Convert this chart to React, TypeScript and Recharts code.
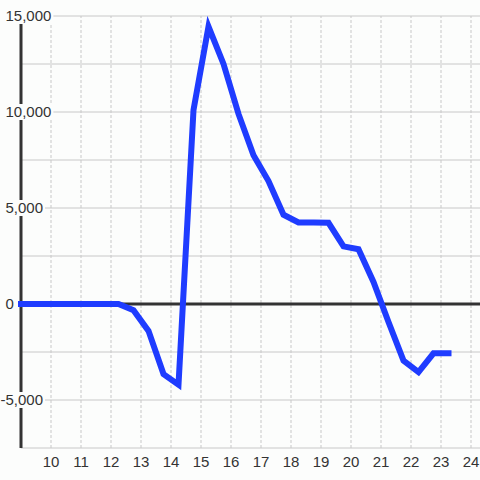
import React from "react";
import {
  LineChart,
  Line,
  XAxis,
  YAxis,
  CartesianGrid,
  ReferenceLine,
} from "recharts";

const xValues = [
  9, 9.25, 9.75, 10.25, 10.75, 11.25, 11.75, 12.25, 12.75, 13.25, 13.75, 14.25,
  14.75, 15.25, 15.75, 16.25, 16.75, 17.25, 17.75, 18.25, 18.75, 19.25, 19.75,
  20.25, 20.75, 21.25, 21.75, 22.25, 22.75, 23.25,
];
const yValues = [
  0, 0, 0, 0, 0, 0, 0, 0, -320, -1400, -3650, -4200, 10100, 14450, 12500, 9900,
  7750, 6400, 4650, 4250, 4250, 4230, 3000, 2850, 1150, -940, -2950, -3550,
  -2570, -2570,
];
const xTicks = [10, 11, 12, 13, 14, 15, 16, 17, 18, 19, 20, 21, 22, 23, 24];
const yTicks = [-7500, -5000, -2500, 0, 2500, 5000, 7500, 10000, 12500, 15000];
const yLabelTicks = [-5000, 0, 5000, 10000, 15000];

const data = xValues.map((x, i) => ({ x, y: yValues[i] }));

const BG = "#fcfdfc";
const TEXT = "#333333";
const GRID = "#c8c8c8";
const FONT = "'Liberation Sans', Arial, sans-serif";
const FS = 15;

const charW = (c: string) => {
  if (c === ",") return 0.278;
  if (c === "-") return 0.333;
  return 0.556;
};

const YTick = (props: any) => {
  const { y, payload } = props;
  const v: number = payload.value;
  if (!yLabelTicks.includes(v)) return <g />;
  const abs = Math.abs(v).toLocaleString("en-US");
  const startX = 5.5;
  let w = 0;
  for (const c of abs) w += charW(c) * FS;
  const minusW = v < 0 ? charW("-") * FS : 0;
  return (
    <g>
      <rect
        x={startX - minusW - 1.5}
        y={y - 8}
        width={w + minusW + 3.5}
        height={16}
        fill={BG}
      />
      {v < 0 && (
        <text
          x={startX}
          y={y}
          dy="0.355em"
          textAnchor="end"
          fill={TEXT}
          fontSize={FS}
          fontFamily={FONT}
        >
          -
        </text>
      )}
      <text
        x={startX}
        y={y}
        dy="0.355em"
        textAnchor="start"
        fill={TEXT}
        fontSize={FS}
        fontFamily={FONT}
      >
        {abs}
      </text>
    </g>
  );
};

export default function App() {
  return (
    <div
      style={{
        position: "absolute",
        left: 0,
        top: 0,
        width: 480,
        height: 480,
        background: BG,
      }}
    >
      <LineChart
        width={480}
        height={480}
        data={data}
        margin={{ top: 16, right: 0, bottom: 0, left: 0 }}
      >
        <CartesianGrid
          horizontal={true}
          vertical={false}
          stroke={GRID}
          strokeWidth={1}
        />
        {xTicks.map((t) => (
          <ReferenceLine
            key={"v" + t}
            x={t}
            stroke={GRID}
            strokeWidth={1}
            strokeDasharray="3 2"
          />
        ))}
        <ReferenceLine y={0} stroke="#333333" strokeWidth={3} />
        <ReferenceLine x={9} stroke="#333333" strokeWidth={3} />
        <Line
          type="linear"
          dataKey="y"
          stroke="#1f3cff"
          strokeWidth={6}
          strokeLinecap="square"
          dot={false}
          activeDot={false}
          isAnimationActive={false}
        />
        <XAxis
          dataKey="x"
          type="number"
          domain={[9, 24.3]}
          ticks={xTicks}
          axisLine={false}
          tickLine={false}
          height={32}
          tick={{ fill: TEXT, fontSize: FS, fontFamily: FONT }}
          interval={0}
        />
        <YAxis
          type="number"
          domain={[-7500, 15000]}
          ticks={yTicks}
          axisLine={false}
          tickLine={false}
          width={21}
          interval={0}
          tick={<YTick />}
        />
      </LineChart>
    </div>
  );
}
